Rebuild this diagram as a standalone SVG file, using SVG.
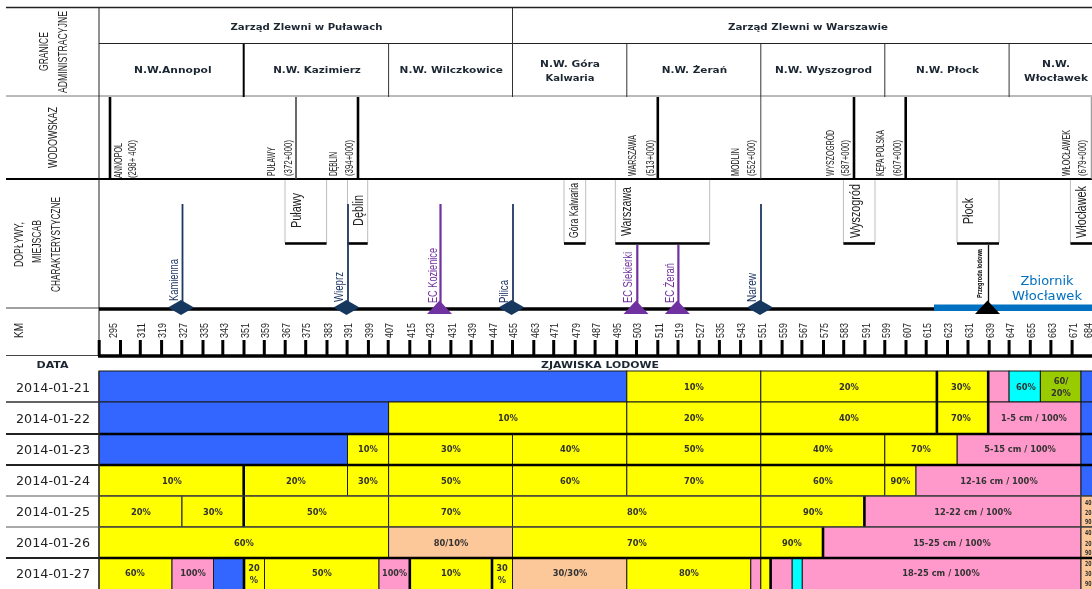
<svg xmlns="http://www.w3.org/2000/svg" width="1092" height="589" viewBox="0 0 1092 589">
<style>
text{font-family:"Liberation Sans",Arial,sans-serif;fill:#222}
.h{font-family:"DejaVu Sans",Verdana,sans-serif;font-weight:700;font-size:9.2px;text-anchor:middle;fill:#1c2733}
.c{font-family:"DejaVu Sans",Verdana,sans-serif;font-weight:700;font-size:8.3px;text-anchor:middle;fill:#333}
.e{font-family:"DejaVu Sans",Verdana,sans-serif;font-weight:700;font-size:7px;fill:#333}
.d{font-family:"DejaVu Sans",Verdana,sans-serif;font-size:12px;fill:#222}
.k{font-size:11px}
.w{font-size:10.5px}
.s{font-size:14.5px}
.t{font-size:13.5px}
.n{fill:#1f3864;font-size:13px}
.p{fill:#7030a0;font-size:13.5px}
.z{fill:#0070c0;font-family:"DejaVu Sans",Verdana,sans-serif;font-size:12px;text-anchor:middle}
.y{fill:#ffff00}.b{fill:#3366ff}.q{fill:#ff99cc}.a{fill:#00ffff}.g{fill:#99cc00}.o{fill:#fcc799}
#cells rect{stroke:#1a1a1a;stroke-width:1}
.box{fill:#fff;stroke:#bdbdbd;stroke-width:1}
.bar{stroke:#000;stroke-width:2.6;fill:none}
</style>
<defs>
<filter id="soft" filterUnits="userSpaceOnUse" x="0" y="0" width="1092" height="589"><feGaussianBlur stdDeviation="0.35"/></filter>
</defs>
<rect width="1092" height="589" fill="#fff"/>
<g filter="url(#soft)">

<g id="cells">
<rect class="b" x="99" y="371" width="527.8" height="31"/>
<rect class="y" x="626.8" y="371" width="134" height="31"/>
<rect class="y" x="760.8" y="371" width="176.1" height="31"/>
<rect class="y" x="936.9" y="371" width="51.3" height="31"/>
<rect class="q" x="988.2" y="371" width="20.9" height="31"/>
<rect class="a" x="1009.1" y="371" width="31.3" height="31"/>
<rect class="g" x="1040.4" y="371" width="40.6" height="31"/>
<rect class="b" x="1081" y="371" width="12" height="31"/>

<rect class="b" x="99" y="402" width="289.6" height="32"/>
<rect class="y" x="388.6" y="402" width="238.2" height="32"/>
<rect class="y" x="626.8" y="402" width="134" height="32"/>
<rect class="y" x="760.8" y="402" width="176.1" height="32"/>
<rect class="y" x="936.9" y="402" width="51.3" height="32"/>
<rect class="q" x="988.2" y="402" width="92.8" height="32"/>
<rect class="b" x="1081" y="402" width="12" height="32"/>

<rect class="b" x="99" y="434" width="248.5" height="31"/>
<rect class="y" x="347.5" y="434" width="41.1" height="31"/>
<rect class="y" x="388.6" y="434" width="123.9" height="31"/>
<rect class="y" x="512.5" y="434" width="114.3" height="31"/>
<rect class="y" x="626.8" y="434" width="134" height="31"/>
<rect class="y" x="760.8" y="434" width="124" height="31"/>
<rect class="y" x="884.8" y="434" width="72.4" height="31"/>
<rect class="q" x="957.2" y="434" width="123.8" height="31"/>
<rect class="b" x="1081" y="434" width="12" height="31"/>

<rect class="y" x="99" y="465" width="144.7" height="31"/>
<rect class="y" x="243.7" y="465" width="103.8" height="31"/>
<rect class="y" x="347.5" y="465" width="41.1" height="31"/>
<rect class="y" x="388.6" y="465" width="123.9" height="31"/>
<rect class="y" x="512.5" y="465" width="114.3" height="31"/>
<rect class="y" x="626.8" y="465" width="134" height="31"/>
<rect class="y" x="760.8" y="465" width="124" height="31"/>
<rect class="y" x="884.8" y="465" width="31.2" height="31"/>
<rect class="q" x="916" y="465" width="165" height="31"/>
<rect class="b" x="1081" y="465" width="12" height="31"/>

<rect class="y" x="99" y="496" width="83" height="31"/>
<rect class="y" x="182" y="496" width="61.7" height="31"/>
<rect class="y" x="243.7" y="496" width="144.9" height="31"/>
<rect class="y" x="388.6" y="496" width="123.9" height="31"/>
<rect class="y" x="512.5" y="496" width="248.3" height="31"/>
<rect class="y" x="760.8" y="496" width="103.6" height="31"/>
<rect class="q" x="864.4" y="496" width="216.6" height="31"/>
<rect class="o" x="1081" y="496" width="12" height="31"/>

<rect class="y" x="99" y="527" width="289.6" height="31"/>
<rect class="o" x="388.6" y="527" width="123.9" height="31"/>
<rect class="y" x="512.5" y="527" width="248.3" height="31"/>
<rect class="y" x="760.8" y="527" width="62.2" height="31"/>
<rect class="q" x="823" y="527" width="258" height="31"/>
<rect class="o" x="1081" y="527" width="12" height="31"/>

<rect class="y" x="99" y="558" width="73" height="32"/>
<rect class="q" x="172" y="558" width="41.5" height="32"/>
<rect class="b" x="213.5" y="558" width="30.5" height="32"/>
<rect class="y" x="244" y="558" width="20.5" height="32"/>
<rect class="y" x="264.5" y="558" width="114.5" height="32"/>
<rect class="q" x="379" y="558" width="30.8" height="32"/>
<rect class="y" x="409.8" y="558" width="82.2" height="32"/>
<rect class="y" x="492" y="558" width="20.5" height="32"/>
<rect class="o" x="512.5" y="558" width="114.3" height="32"/>
<rect class="y" x="626.8" y="558" width="124" height="32"/>
<rect class="q" x="750.8" y="558" width="10" height="32"/>
<rect class="y" x="760.8" y="558" width="9.8" height="32"/>
<rect class="q" x="770.6" y="558" width="21.6" height="32"/>
<rect class="a" x="792.2" y="558" width="10.1" height="32"/>
<rect class="q" x="802.3" y="558" width="278.7" height="32"/>
<rect class="o" x="1081" y="558" width="12" height="32"/>
</g>

<g id="cell-rules">
<path class="bar" d="M99 434H1092M99 465H1092M99 558H1092M243.7 465V527M936.9 371V434M988.2 371V434M864.4 496V527M823 527V558M244 558V589M409.8 558V589M492 558V589M770.6 558V589"/>
<path d="M6 402H99M99 371V589" stroke="#333" stroke-width="1.4" fill="none"/>
<path d="M6 496H1092M6 527H1092" stroke="#555" stroke-width="1.2" fill="none"/>
<path d="M6 434H99M6 465H99M6 558H99" stroke="#222" stroke-width="2" fill="none"/>
</g>

<g id="cell-labels">
<text class="c" x="694" y="390">10%</text>
<text class="c" x="849" y="390">20%</text>
<text class="c" x="961" y="390">30%</text>
<text class="c" x="1026" y="390">60%</text>
<text class="c" x="1061" y="384">60/</text>
<text class="c" x="1061" y="396">20%</text>
<text class="c" x="508" y="421">10%</text>
<text class="c" x="694" y="421">20%</text>
<text class="c" x="849" y="421">40%</text>
<text class="c" x="961" y="421">70%</text>
<text class="c" x="1034" y="421">1-5 cm / 100%</text>
<text class="c" x="368" y="452">10%</text>
<text class="c" x="451" y="452">30%</text>
<text class="c" x="570" y="452">40%</text>
<text class="c" x="694" y="452">50%</text>
<text class="c" x="823" y="452">40%</text>
<text class="c" x="921" y="452">70%</text>
<text class="c" x="1020" y="452">5-15 cm / 100%</text>
<text class="c" x="172" y="483.5">10%</text>
<text class="c" x="296" y="483.5">20%</text>
<text class="c" x="368" y="483.5">30%</text>
<text class="c" x="451" y="483.5">50%</text>
<text class="c" x="570" y="483.5">60%</text>
<text class="c" x="694" y="483.5">70%</text>
<text class="c" x="823" y="483.5">60%</text>
<text class="c" x="900.5" y="483.5">90%</text>
<text class="c" x="999" y="483.5">12-16 cm / 100%</text>
<text class="c" x="141" y="514.5">20%</text>
<text class="c" x="213" y="514.5">30%</text>
<text class="c" x="317" y="514.5">50%</text>
<text class="c" x="451" y="514.5">70%</text>
<text class="c" x="637" y="514.5">80%</text>
<text class="c" x="813" y="514.5">90%</text>
<text class="c" x="973" y="514.5">12-22 cm / 100%</text>
<text class="c" x="244" y="545.5">60%</text>
<text class="c" x="451" y="545.5">80/10%</text>
<text class="c" x="637" y="545.5">70%</text>
<text class="c" x="792" y="545.5">90%</text>
<text class="c" x="952" y="545.5">15-25 cm / 100%</text>
<text class="c" x="135" y="576">60%</text>
<text class="c" x="193" y="576">100%</text>
<text class="c" x="254" y="571">20</text>
<text class="c" x="254" y="583">%</text>
<text class="c" x="322" y="576">50%</text>
<text class="c" x="394.5" y="576" textLength="25" lengthAdjust="spacingAndGlyphs">100%</text>
<text class="c" x="451" y="576">10%</text>
<text class="c" x="502" y="571">30</text>
<text class="c" x="502" y="583">%</text>
<text class="c" x="570" y="576">30/30%</text>
<text class="c" x="689" y="576">80%</text>
<text class="c" x="941" y="576">18-25 cm / 100%</text>
<text class="e" x="1085" y="505" textLength="6.5" lengthAdjust="spacingAndGlyphs">40</text>
<text class="e" x="1085" y="515" textLength="6.5" lengthAdjust="spacingAndGlyphs">20</text>
<text class="e" x="1085" y="524" textLength="6.5" lengthAdjust="spacingAndGlyphs">90</text>
<text class="e" x="1085" y="535" textLength="6.5" lengthAdjust="spacingAndGlyphs">40</text>
<text class="e" x="1085" y="546" textLength="6.5" lengthAdjust="spacingAndGlyphs">20</text>
<text class="e" x="1085" y="555" textLength="6.5" lengthAdjust="spacingAndGlyphs">90</text>
<text class="e" x="1085" y="566" textLength="6.5" lengthAdjust="spacingAndGlyphs">20</text>
<text class="e" x="1085" y="576" textLength="6.5" lengthAdjust="spacingAndGlyphs">30</text>
<text class="e" x="1085" y="586" textLength="6.5" lengthAdjust="spacingAndGlyphs">90</text>
</g>

<g id="dates">
<text class="d" x="16" y="391.5" textLength="74" lengthAdjust="spacingAndGlyphs">2014-01-21</text>
<text class="d" x="16" y="422.5" textLength="74" lengthAdjust="spacingAndGlyphs">2014-01-22</text>
<text class="d" x="16" y="453.5" textLength="74" lengthAdjust="spacingAndGlyphs">2014-01-23</text>
<text class="d" x="16" y="485" textLength="74" lengthAdjust="spacingAndGlyphs">2014-01-24</text>
<text class="d" x="16" y="516" textLength="74" lengthAdjust="spacingAndGlyphs">2014-01-25</text>
<text class="d" x="16" y="547" textLength="74" lengthAdjust="spacingAndGlyphs">2014-01-26</text>
<text class="d" x="16" y="578" textLength="74" lengthAdjust="spacingAndGlyphs">2014-01-27</text>
</g>

<g id="grid">
<path d="M6 7.5H1092" stroke="#222" stroke-width="1.6" fill="none"/>
<path d="M99 43.5H1092" stroke="#222" stroke-width="1" fill="none"/>
<path d="M6 96H1092" stroke="#777" stroke-width="1" fill="none"/>
<path d="M6 179H1092" stroke="#000" stroke-width="2" fill="none"/>
<path d="M6 308H99M6 355.5H99" stroke="#444" stroke-width="1" fill="none"/>
<path d="M99 8V356" stroke="#222" stroke-width="1" fill="none"/>
<path d="M512.5 8V97M388.6 44V97M626.8 44V97M760.8 44V97M884.8 44V97M1009.1 44V97" stroke="#333" stroke-width="1" fill="none"/>
<path d="M243.7 44V97" stroke="#000" stroke-width="2" fill="none"/>
</g>

<g id="row-headers">
<text class="h" x="306.5" y="29.5" textLength="152" lengthAdjust="spacingAndGlyphs">Zarząd Zlewni w Puławach</text>
<text class="h" x="808" y="29.5" textLength="160" lengthAdjust="spacingAndGlyphs">Zarząd Zlewni w Warszawie</text>
<text class="h" x="172.8" y="73" textLength="77.6" lengthAdjust="spacingAndGlyphs">N.W.Annopol</text>
<text class="h" x="317" y="73" textLength="87.7" lengthAdjust="spacingAndGlyphs">N.W. Kazimierz</text>
<text class="h" x="451.3" y="73" textLength="103.4" lengthAdjust="spacingAndGlyphs">N.W. Wilczkowice</text>
<text class="h" x="570" y="66.5" textLength="60" lengthAdjust="spacingAndGlyphs">N.W. Góra</text>
<text class="h" x="570" y="80.5" textLength="49" lengthAdjust="spacingAndGlyphs">Kalwaria</text>
<text class="h" x="694.4" y="73" textLength="65.5" lengthAdjust="spacingAndGlyphs">N.W. Żerań</text>
<text class="h" x="823.5" y="73" textLength="97" lengthAdjust="spacingAndGlyphs">N.W. Wyszogrod</text>
<text class="h" x="947.5" y="73" textLength="63" lengthAdjust="spacingAndGlyphs">N.W. Płock</text>
<text class="h" x="1056" y="66.5" textLength="28" lengthAdjust="spacingAndGlyphs">N.W.</text>
<text class="h" x="1056" y="80.5" textLength="64" lengthAdjust="spacingAndGlyphs">Włocławek</text>

<text class="t" transform="translate(48,71) rotate(-90)" textLength="39" lengthAdjust="spacingAndGlyphs">GRANICE</text>
<text class="t" transform="translate(66.5,93) rotate(-90)" textLength="82" lengthAdjust="spacingAndGlyphs">ADMINISTRACYJNE</text>
<text class="t" transform="translate(56.5,168) rotate(-90)" textLength="61" lengthAdjust="spacingAndGlyphs">WODOWSKAZ</text>
<text class="t" transform="translate(22.5,267) rotate(-90)" textLength="45" lengthAdjust="spacingAndGlyphs">DOPŁYWY,</text>
<text class="t" transform="translate(41,263) rotate(-90)" textLength="43" lengthAdjust="spacingAndGlyphs">MIEJSCAB</text>
<text class="t" transform="translate(59.5,292) rotate(-90)" textLength="95" lengthAdjust="spacingAndGlyphs">CHARAKTERYSTYCZNE</text>
<text class="t" transform="translate(22.5,338) rotate(-90)" textLength="15" lengthAdjust="spacingAndGlyphs">KM</text>
<text class="h" x="52.5" y="367.5" textLength="32" lengthAdjust="spacingAndGlyphs">DATA</text>
<text class="h" x="600" y="367.5" textLength="118" lengthAdjust="spacingAndGlyphs">ZJAWISKA LODOWE</text>
</g>

<g id="gauges">
<path d="M110 97V179M358 97V179M657.8 97V179M854 97V179M905.7 97V179" stroke="#000" stroke-width="2.6" fill="none"/>
<path d="M296 97V179" stroke="#444" stroke-width="1.6" fill="none"/>
<path d="M760.8 97V179" stroke="#444" stroke-width="1" fill="none"/>
<path d="M1091.3 97V179" stroke="#888" stroke-width="1" fill="none"/>
<text class="w" transform="translate(121.5,178) rotate(-90)" textLength="35" lengthAdjust="spacingAndGlyphs">ANNOPOL</text>
<text class="w" transform="translate(136,178) rotate(-90)" textLength="38" lengthAdjust="spacingAndGlyphs">(298+ 400)</text>
<text class="w" transform="translate(275,176) rotate(-90)" textLength="29" lengthAdjust="spacingAndGlyphs">PUŁAWY</text>
<text class="w" transform="translate(291.500,176) rotate(-90)" textLength="36" lengthAdjust="spacingAndGlyphs">(372+000)</text>
<text class="w" transform="translate(336.500,176) rotate(-90)" textLength="24" lengthAdjust="spacingAndGlyphs">DĘBLIN</text>
<text class="w" transform="translate(353,176) rotate(-90)" textLength="36" lengthAdjust="spacingAndGlyphs">(394+000)</text>
<text class="w" transform="translate(636,176) rotate(-90)" textLength="41" lengthAdjust="spacingAndGlyphs">WARSZAWA</text>
<text class="w" transform="translate(653.500,176) rotate(-90)" textLength="36" lengthAdjust="spacingAndGlyphs">(513+000)</text>
<text class="w" transform="translate(739,176) rotate(-90)" textLength="28" lengthAdjust="spacingAndGlyphs">MODLIN</text>
<text class="w" transform="translate(755,176) rotate(-90)" textLength="36" lengthAdjust="spacingAndGlyphs">(552+000)</text>
<text class="w" transform="translate(833.500,176) rotate(-90)" textLength="46" lengthAdjust="spacingAndGlyphs">WYSZOGRÓD</text>
<text class="w" transform="translate(849,176) rotate(-90)" textLength="36" lengthAdjust="spacingAndGlyphs">(587+000)</text>
<text class="w" transform="translate(884,176) rotate(-90)" textLength="46" lengthAdjust="spacingAndGlyphs">KĘPA POLSKA</text>
<text class="w" transform="translate(900.500,176) rotate(-90)" textLength="36" lengthAdjust="spacingAndGlyphs">(607+000)</text>
<text class="w" transform="translate(1070,176) rotate(-90)" textLength="46" lengthAdjust="spacingAndGlyphs">WŁOCŁAWEK</text>
<text class="w" transform="translate(1085.500,176) rotate(-90)" textLength="36" lengthAdjust="spacingAndGlyphs">(679+000)</text>
</g>

<g id="places">
<g id="place-pulawy"><path class="box" d="M285 180V243H326.6V180"/><path class="bar" d="M285 243.5H326.6"/><text class="s" transform="translate(300.500,228) rotate(-90)" textLength="35" lengthAdjust="spacingAndGlyphs">Puławy</text></g>
<g id="place-deblin"><path class="box" d="M347.5 180V243H367.7V180"/><path class="bar" d="M347.5 243.5H367.7"/><text class="s" transform="translate(362.500,226) rotate(-90)" textLength="31" lengthAdjust="spacingAndGlyphs">Dęblin</text></g>
<g id="place-gora"><path class="box" d="M564 180V243H585.7V180"/><path class="bar" d="M564 243.5H585.7"/><text class="s" style="font-size:12.5px" transform="translate(577.500,238) rotate(-90)" textLength="55" lengthAdjust="spacingAndGlyphs">Góra Kalwaria</text></g>
<g id="place-warszawa"><path class="box" d="M615.3 180V243H709.7V180"/><path class="bar" d="M615.3 243.5H709.7"/><text class="s" transform="translate(631,236) rotate(-90)" textLength="49" lengthAdjust="spacingAndGlyphs">Warszawa</text></g>
<g id="place-wyszogrod"><path class="box" d="M843.4 180V243H875V180"/><path class="bar" d="M843.4 243.5H875"/><text class="s" transform="translate(859.500,238) rotate(-90)" textLength="54" lengthAdjust="spacingAndGlyphs">Wyszogród</text></g>
<g id="place-plock"><path class="box" d="M957 180V243H999V180"/><path class="bar" d="M957 243.5H999"/><text class="s" transform="translate(972.500,224) rotate(-90)" textLength="26" lengthAdjust="spacingAndGlyphs">Płock</text></g>
<g id="place-wloclawek"><path class="box" d="M1070.4 180V243H1093"/><path class="bar" d="M1070.4 243.5H1092"/><text class="s" transform="translate(1086,238) rotate(-90)" textLength="52" lengthAdjust="spacingAndGlyphs">Włocławek</text></g>
</g>

<g id="river">
<path d="M99 309H934" stroke="#000" stroke-width="3.6" fill="none"/>
<rect x="934" y="304.5" width="158" height="6.5" fill="#0070c0"/>
<text class="z" x="1047" y="285" textLength="53" lengthAdjust="spacingAndGlyphs">Zbiornik</text>
<text class="z" x="1047" y="299.5" textLength="70" lengthAdjust="spacingAndGlyphs">Włocławek</text>
</g>

<g id="connectors" fill="none">
<path d="M182.5 204V306M348 204V306M513 204V306M761 204V306" stroke="#1f3864" stroke-width="1.8"/>
<path d="M440.5 204V306M637.3 245V306M678.4 245V306" stroke="#7030a0" stroke-width="2.2"/>
<path d="M988.5 245V306" stroke="#111" stroke-width="1.3"/>
</g>

<g id="tributaries">
<g id="kamienna"><path d="M181 300l13 7.500-13 7.500-13-7.500z" fill="#17375e"/><text class="n" transform="translate(177.500,301) rotate(-90)" textLength="42" lengthAdjust="spacingAndGlyphs">Kamienna</text></g>
<g id="wieprz"><path d="M346.500 300l13 7.500-13 7.500-13-7.500z" fill="#17375e"/><text class="n" transform="translate(343,302) rotate(-90)" textLength="30" lengthAdjust="spacingAndGlyphs">Wieprz</text></g>
<g id="pilica"><path d="M511.500 300l13 7.500-13 7.500-13-7.500z" fill="#17375e"/><text class="n" transform="translate(507.500,303) rotate(-90)" textLength="23" lengthAdjust="spacingAndGlyphs">Pilica</text></g>
<g id="narew"><path d="M760 300l13 7.500-13 7.500-13-7.500z" fill="#17375e"/><text class="n" transform="translate(756,302) rotate(-90)" textLength="29" lengthAdjust="spacingAndGlyphs">Narew</text></g>
<g id="ec-kozienice"><path d="M439.500 300.500l12.500 13.500h-25z" fill="#7030a0"/><text class="p" transform="translate(436.500,303) rotate(-90)" textLength="55" lengthAdjust="spacingAndGlyphs">EC Kozienice</text></g>
<g id="ec-siekierki"><path d="M636 300.500l12.500 13.500h-25z" fill="#7030a0"/><text class="p" transform="translate(631.500,303) rotate(-90)" textLength="51" lengthAdjust="spacingAndGlyphs">EC Siekierki</text></g>
<g id="ec-zeran"><path d="M677.300 300.500l12.500 13.500h-25z" fill="#7030a0"/><text class="p" transform="translate(673.500,303) rotate(-90)" textLength="40" lengthAdjust="spacingAndGlyphs">EC Żerań</text></g>
<g id="przegroda"><path d="M987.500 300.500l12.500 13.500h-25z" fill="#000"/><text transform="translate(981.500,298) rotate(-90)" textLength="49" lengthAdjust="spacingAndGlyphs" style="font-size:7px;font-weight:700;fill:#000">Przegroda lodowa</text></g>
</g>

<g id="km-scale">
<path d="M99.200 340V356M120.500 340V356M140.300 340V356M161.600 340V356M181.800 340V356M203 340V356M222.800 340V356M244 340V356M264.300 340V356M285.200 340V356M305.700 340V356M327 340V356M347.100 340V356M368.400 340V356M388.200 340V356M409.800 340V356M429.700 340V356M450.900 340V356M471.100 340V356M492.300 340V356M512.500 340V356M533.800 340V356M553.700 340V356M575.200 340V356M595.100 340V356M616.700 340V356M636.500 340V356M657.800 340V356M678 340V356M699.200 340V356M719.400 340V356M740.600 340V356M760.800 340V356M782.100 340V356M801.900 340V356M823.500 340V356M843.700 340V356M864.900 340V356M884.800 340V356M906 340V356M926.200 340V356M947.500 340V356M968 340V356M989.200 340V356M1009.100 340V356M1030.300 340V356M1050.900 340V356M1072.100 340V356" stroke="#000" stroke-width="3" fill="none"/>
<path d="M98 356H1092" stroke="#000" stroke-width="3.400" fill="none"/>
<text class="k" transform="translate(116.500,338) rotate(-90)" textLength="15" lengthAdjust="spacingAndGlyphs">295</text>
<text class="k" transform="translate(145,338) rotate(-90)" textLength="15" lengthAdjust="spacingAndGlyphs">311</text>
<text class="k" transform="translate(166.300,338) rotate(-90)" textLength="15" lengthAdjust="spacingAndGlyphs">319</text>
<text class="k" transform="translate(186.500,338) rotate(-90)" textLength="15" lengthAdjust="spacingAndGlyphs">327</text>
<text class="k" transform="translate(207.700,338) rotate(-90)" textLength="15" lengthAdjust="spacingAndGlyphs">335</text>
<text class="k" transform="translate(227.500,338) rotate(-90)" textLength="15" lengthAdjust="spacingAndGlyphs">343</text>
<text class="k" transform="translate(248.700,338) rotate(-90)" textLength="15" lengthAdjust="spacingAndGlyphs">351</text>
<text class="k" transform="translate(269,338) rotate(-90)" textLength="15" lengthAdjust="spacingAndGlyphs">359</text>
<text class="k" transform="translate(289.900,338) rotate(-90)" textLength="15" lengthAdjust="spacingAndGlyphs">367</text>
<text class="k" transform="translate(310.400,338) rotate(-90)" textLength="15" lengthAdjust="spacingAndGlyphs">375</text>
<text class="k" transform="translate(331.700,338) rotate(-90)" textLength="15" lengthAdjust="spacingAndGlyphs">383</text>
<text class="k" transform="translate(351.800,338) rotate(-90)" textLength="15" lengthAdjust="spacingAndGlyphs">391</text>
<text class="k" transform="translate(373.100,338) rotate(-90)" textLength="15" lengthAdjust="spacingAndGlyphs">399</text>
<text class="k" transform="translate(392.900,338) rotate(-90)" textLength="15" lengthAdjust="spacingAndGlyphs">407</text>
<text class="k" transform="translate(414.500,338) rotate(-90)" textLength="15" lengthAdjust="spacingAndGlyphs">415</text>
<text class="k" transform="translate(434.400,338) rotate(-90)" textLength="15" lengthAdjust="spacingAndGlyphs">423</text>
<text class="k" transform="translate(455.600,338) rotate(-90)" textLength="15" lengthAdjust="spacingAndGlyphs">431</text>
<text class="k" transform="translate(475.800,338) rotate(-90)" textLength="15" lengthAdjust="spacingAndGlyphs">439</text>
<text class="k" transform="translate(497,338) rotate(-90)" textLength="15" lengthAdjust="spacingAndGlyphs">447</text>
<text class="k" transform="translate(517.200,338) rotate(-90)" textLength="15" lengthAdjust="spacingAndGlyphs">455</text>
<text class="k" transform="translate(538.500,338) rotate(-90)" textLength="15" lengthAdjust="spacingAndGlyphs">463</text>
<text class="k" transform="translate(558.400,338) rotate(-90)" textLength="15" lengthAdjust="spacingAndGlyphs">471</text>
<text class="k" transform="translate(579.900,338) rotate(-90)" textLength="15" lengthAdjust="spacingAndGlyphs">479</text>
<text class="k" transform="translate(599.800,338) rotate(-90)" textLength="15" lengthAdjust="spacingAndGlyphs">487</text>
<text class="k" transform="translate(621.400,338) rotate(-90)" textLength="15" lengthAdjust="spacingAndGlyphs">495</text>
<text class="k" transform="translate(641.200,338) rotate(-90)" textLength="15" lengthAdjust="spacingAndGlyphs">503</text>
<text class="k" transform="translate(662.500,338) rotate(-90)" textLength="15" lengthAdjust="spacingAndGlyphs">511</text>
<text class="k" transform="translate(682.700,338) rotate(-90)" textLength="15" lengthAdjust="spacingAndGlyphs">519</text>
<text class="k" transform="translate(703.900,338) rotate(-90)" textLength="15" lengthAdjust="spacingAndGlyphs">527</text>
<text class="k" transform="translate(724.100,338) rotate(-90)" textLength="15" lengthAdjust="spacingAndGlyphs">535</text>
<text class="k" transform="translate(745.300,338) rotate(-90)" textLength="15" lengthAdjust="spacingAndGlyphs">543</text>
<text class="k" transform="translate(765.500,338) rotate(-90)" textLength="15" lengthAdjust="spacingAndGlyphs">551</text>
<text class="k" transform="translate(786.800,338) rotate(-90)" textLength="15" lengthAdjust="spacingAndGlyphs">559</text>
<text class="k" transform="translate(806.600,338) rotate(-90)" textLength="15" lengthAdjust="spacingAndGlyphs">567</text>
<text class="k" transform="translate(828.200,338) rotate(-90)" textLength="15" lengthAdjust="spacingAndGlyphs">575</text>
<text class="k" transform="translate(848.400,338) rotate(-90)" textLength="15" lengthAdjust="spacingAndGlyphs">583</text>
<text class="k" transform="translate(869.600,338) rotate(-90)" textLength="15" lengthAdjust="spacingAndGlyphs">591</text>
<text class="k" transform="translate(889.500,338) rotate(-90)" textLength="15" lengthAdjust="spacingAndGlyphs">599</text>
<text class="k" transform="translate(910.700,338) rotate(-90)" textLength="15" lengthAdjust="spacingAndGlyphs">607</text>
<text class="k" transform="translate(930.900,338) rotate(-90)" textLength="15" lengthAdjust="spacingAndGlyphs">615</text>
<text class="k" transform="translate(952.200,338) rotate(-90)" textLength="15" lengthAdjust="spacingAndGlyphs">623</text>
<text class="k" transform="translate(972.700,338) rotate(-90)" textLength="15" lengthAdjust="spacingAndGlyphs">631</text>
<text class="k" transform="translate(993.900,338) rotate(-90)" textLength="15" lengthAdjust="spacingAndGlyphs">639</text>
<text class="k" transform="translate(1013.800,338) rotate(-90)" textLength="15" lengthAdjust="spacingAndGlyphs">647</text>
<text class="k" transform="translate(1035,338) rotate(-90)" textLength="15" lengthAdjust="spacingAndGlyphs">655</text>
<text class="k" transform="translate(1055.600,338) rotate(-90)" textLength="15" lengthAdjust="spacingAndGlyphs">663</text>
<text class="k" transform="translate(1076.800,338) rotate(-90)" textLength="15" lengthAdjust="spacingAndGlyphs">671</text>
<text class="k" transform="translate(1091.500,338) rotate(-90)" textLength="15" lengthAdjust="spacingAndGlyphs">684</text>
</g>
</g>
</svg>
